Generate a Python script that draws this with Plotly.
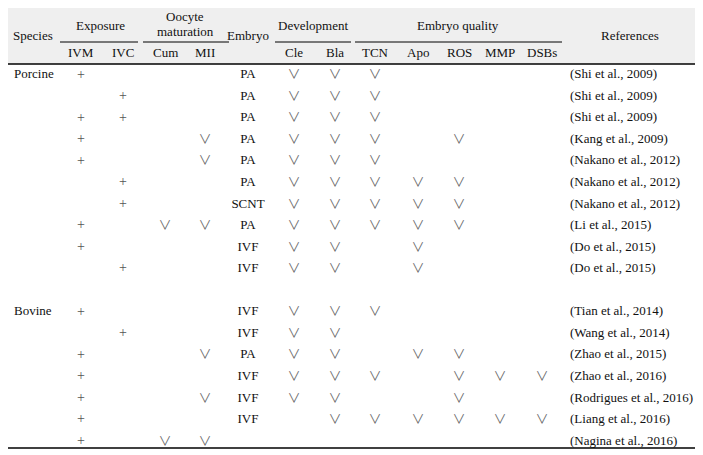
import plotly.graph_objects as go

# ---- data (rows: 10 porcine, 1 blank spacer, 7 bovine) ----
species = ["Porcine", "", "", "", "", "", "", "", "", "", "",
           "Bovine", "", "", "", "", "", ""]
ivm  = [1, 0, 1, 1, 1, 0, 0, 1, 1, 0, 0, 1, 0, 1, 1, 1, 1, 1]
ivc  = [0, 1, 1, 0, 0, 1, 1, 0, 0, 1, 0, 0, 1, 0, 0, 0, 0, 0]
cum  = [0, 0, 0, 0, 0, 0, 0, 1, 0, 0, 0, 0, 0, 0, 0, 0, 0, 1]
mii  = [0, 0, 0, 1, 1, 0, 0, 1, 0, 0, 0, 0, 0, 1, 0, 1, 0, 1]
embryo = ["PA", "PA", "PA", "PA", "PA", "PA", "SCNT", "PA", "IVF", "IVF", "",
          "IVF", "IVF", "PA", "IVF", "IVF", "IVF", ""]
cle  = [1, 1, 1, 1, 1, 1, 1, 1, 1, 1, 0, 1, 1, 1, 1, 1, 0, 0]
bla  = [1, 1, 1, 1, 1, 1, 1, 1, 1, 1, 0, 1, 1, 1, 1, 1, 1, 0]
tcn  = [1, 1, 1, 1, 1, 1, 1, 1, 0, 0, 0, 1, 0, 0, 1, 0, 1, 0]
apo  = [0, 0, 0, 0, 0, 1, 1, 1, 1, 1, 0, 0, 0, 1, 0, 0, 1, 0]
ros  = [0, 0, 0, 1, 0, 1, 1, 1, 0, 0, 0, 0, 0, 1, 1, 1, 1, 0]
mmp  = [0, 0, 0, 0, 0, 0, 0, 0, 0, 0, 0, 0, 0, 0, 1, 0, 1, 0]
dsbs = [0, 0, 0, 0, 0, 0, 0, 0, 0, 0, 0, 0, 0, 0, 1, 0, 1, 0]
references = ["(Shi et al., 2009)", "(Shi et al., 2009)", "(Shi et al., 2009)",
              "(Kang et al., 2009)", "(Nakano et al., 2012)", "(Nakano et al., 2012)",
              "(Nakano et al., 2012)", "(Li et al., 2015)", "(Do et al., 2015)",
              "(Do et al., 2015)", "",
              "(Tian et al., 2014)", "(Wang et al., 2014)", "(Zhao et al., 2015)",
              "(Zhao et al., 2016)", "(Rodrigues et al., 2016)", "(Liang et al., 2016)",
              "(Nagina et al., 2016)"]
sub_headers = ["IVM", "IVC", "Cum", "MII", "Cle", "Bla", "TCN", "Apo", "ROS", "MMP", "DSBs"]

# ---- layout positions (pixels in the 703x455 window; page body has 8px margin) ----
OFF = 8
W, H = 703 - OFF, 455 - OFF
FONT = "Liberation Serif, Times New Roman, serif"
FS = 13
TXT = "#111111"
MARK = "#555555"
col_x = {"IVM": 81, "IVC": 123, "Cum": 165, "MII": 205, "Embryo": 248,
         "Cle": 294, "Bla": 335, "TCN": 375, "Apo": 418, "ROS": 459,
         "MMP": 500, "DSBs": 542}
row_top_px, row_step_px = 75.0, 21.55
rows = list(range(len(species)))

fig = go.Figure()

def X(p):
    return p - OFF

def text_trace(xpos, labels, pos="middle center", color=TXT, size=FS, family=FONT):
    xs, ys, ts = [], [], []
    for r, t in zip(rows, labels):
        if t:
            xs.append(X(xpos)); ys.append(r); ts.append(t)
    fig.add_trace(go.Scatter(x=xs, y=ys, text=ts, mode="text", textposition=pos,
                             textfont=dict(family=family, size=size, color=color),
                             hoverinfo="skip", showlegend=False))

def mark_trace(name, flags, sym):
    if sym == "+":
        text_trace(col_x[name], [sym if f else "" for f in flags], color=MARK, size=14)
    else:
        text_trace(col_x[name], [sym if f else "" for f in flags], color="#666666",
                   size=13, family="Noto Sans CJK SC, DejaVu Sans")

text_trace(14, species, pos="middle right")
mark_trace("IVM", ivm, "+")
mark_trace("IVC", ivc, "+")
mark_trace("Cum", cum, "\u2228")
mark_trace("MII", mii, "\u2228")
text_trace(col_x["Embryo"], embryo)
for nm, arr in [("Cle", cle), ("Bla", bla), ("TCN", tcn), ("Apo", apo),
                ("ROS", ros), ("MMP", mmp), ("DSBs", dsbs)]:
    mark_trace(nm, arr, "\u2228")
text_trace(570, references, pos="middle right")

def py(p):  # window pixel -> paper y
    return 1 - (p - OFF) / H

# header background and rules
fig.add_shape(type="rect", xref="x", yref="paper", x0=X(4), x1=X(701), y0=py(64), y1=py(5),
              fillcolor="#efefef", line_width=0, layer="below")
for yp, w in [(5, 1.6), (64, 1.6), (448, 1.6)]:
    fig.add_shape(type="line", xref="x", yref="paper", x0=X(4), x1=X(701), y0=py(yp), y1=py(yp),
                  line=dict(color="#000000", width=w))
for x0, x1 in [(60, 138), (143, 229), (275, 351), (355, 562)]:
    fig.add_shape(type="line", xref="x", yref="paper", x0=X(x0), x1=X(x1), y0=py(42), y1=py(42),
                  line=dict(color="#000000", width=1))

def head(x, yp, t, anchor="center"):
    fig.add_annotation(x=X(x), y=py(yp), xref="x", yref="paper", text=t, showarrow=False,
                       xanchor=anchor, yanchor="middle",
                       font=dict(family=FONT, size=FS, color=TXT))

head(33, 35, "Species")
head(100, 25, "Exposure")
head(185, 17, "Oocyte")
head(185, 31, "maturation")
head(248, 35, "Embryo")
head(313, 25, "Development")
head(458, 25, "Embryo quality")
head(630, 35, "References")
for nm in sub_headers:
    head(col_x[nm], 53, nm)

# y axis in row units so that row 0 sits at window pixel row_top_px
y_bottom = (455 - row_top_px) / row_step_px
y_top = -(row_top_px - OFF) / row_step_px
fig.update_layout(
    width=W, height=H, margin=dict(l=0, r=0, t=0, b=0),
    paper_bgcolor="white", plot_bgcolor="white",
    xaxis=dict(range=[0, W], visible=False, fixedrange=True),
    yaxis=dict(range=[y_bottom, y_top], visible=False, fixedrange=True),
)
fig.write_html("out.html")
